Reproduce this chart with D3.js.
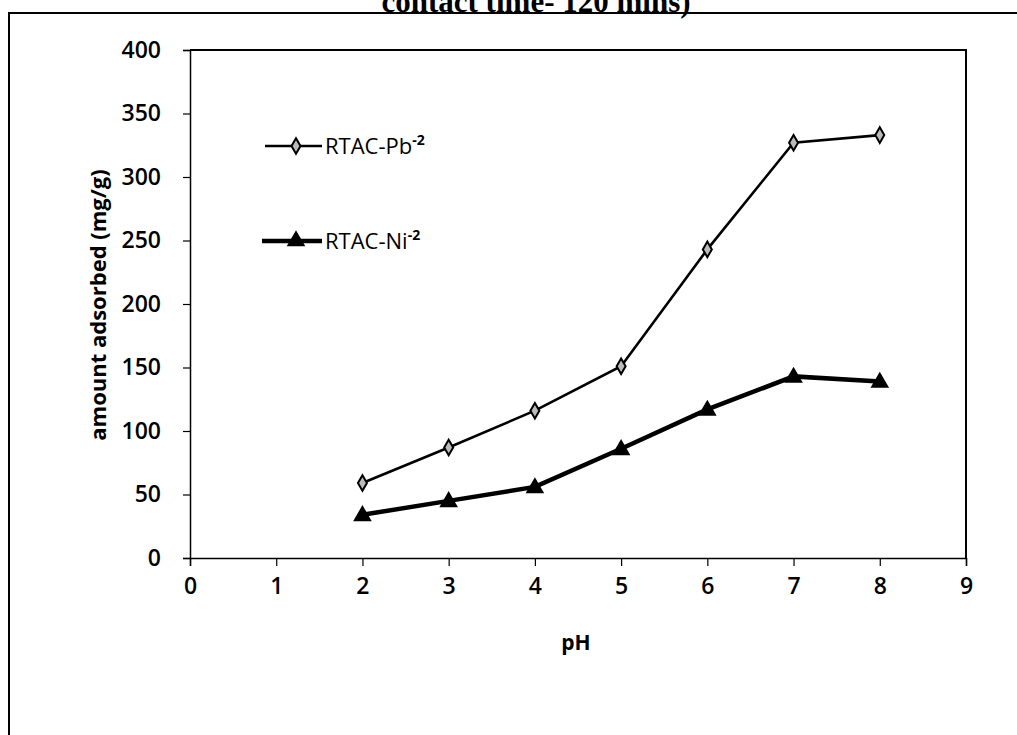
<!DOCTYPE html>
<html>
<head>
<meta charset="utf-8">
<script src="https://cdn.jsdelivr.net/npm/d3@7"></script>
<style>
  html, body { margin: 0; padding: 0; background: #fff; }
  svg { display: block; }
</style>
</head>
<body>
<svg id="chart" width="1017" height="735"></svg>
<script>
// pH values tested and amount adsorbed (mg/g) for each adsorbate
const phValues = [2, 3, 4, 5, 6, 7, 8];
const pbAdsorbed = [59, 87, 116, 151, 243, 327, 333];
const niAdsorbed = [34, 45, 56, 86, 117, 143, 139];
const xTicks = [0, 1, 2, 3, 4, 5, 6, 7, 8, 9];
const yTicks = [0, 50, 100, 150, 200, 250, 300, 350, 400];
const seriesNames = ["RTAC-Pb", "RTAC-Ni"];

const svg = d3.select("#chart");
const tickFont = "'Open Sans', 'DejaVu Sans', sans-serif";

const x = d3.scaleLinear().domain([0, 9]).range([190, 966]);
const y = d3.scaleLinear().domain([0, 400]).range([558, 50]);

// outer frame of the figure
svg.append("path")
  .attr("d", "M9,735 L9,13 L1017,13")
  .attr("fill", "none").attr("stroke", "#000").attr("stroke-width", 2);

// title (runs off the top of the figure)
svg.append("text")
  .attr("x", 536).attr("y", 12)
  .attr("text-anchor", "middle")
  .attr("font-family", "'Liberation Serif', 'Times New Roman', serif")
  .attr("font-weight", "bold").attr("font-size", 31)
  .text("contact time- 120 mins)");

// plot area border (top and right)
svg.append("path")
  .attr("d", `M${x(0)},${y(400)} L${x(9)},${y(400)} L${x(9)},${y(0)}`)
  .attr("fill", "none").attr("stroke", "#000").attr("stroke-width", 2);

// y axis
const yAxis = svg.append("g")
  .attr("transform", `translate(${x(0)},0)`)
  .call(d3.axisLeft(y).tickValues(yTicks).tickSize(7).tickPadding(22));
yAxis.select(".domain").attr("stroke-width", 1.5);
yAxis.selectAll(".tick line").attr("stroke-width", 1.2);
yAxis.selectAll(".tick text")
  .attr("font-family", tickFont).attr("font-weight", 600)
  .attr("font-size", 23).attr("fill", "#000");

// x axis
const xAxis = svg.append("g")
  .attr("transform", `translate(0,${y(0)})`)
  .call(d3.axisBottom(x).tickValues(xTicks).tickSize(8).tickPadding(12));
xAxis.select(".domain").attr("stroke-width", 1.5);
xAxis.selectAll(".tick line").attr("stroke-width", 1.2);
xAxis.selectAll(".tick text")
  .attr("font-family", tickFont).attr("font-weight", 600)
  .attr("font-size", 23).attr("fill", "#000");

// axis titles
svg.append("text")
  .attr("transform", `translate(106,${y(200) + 1}) rotate(-90)`)
  .attr("text-anchor", "middle")
  .attr("font-family", tickFont).attr("font-weight", 700).attr("font-size", 22)
  .text("amount adsorbed (mg/g)");

svg.append("text")
  .attr("x", x(4.5) - 2).attr("y", 650)
  .attr("text-anchor", "middle")
  .attr("font-family", tickFont).attr("font-weight", 700).attr("font-size", 21)
  .text("pH");

const line = d3.line().x(d => x(d[0])).y(d => y(d[1]));
const pbPts = phValues.map((p, i) => [p, pbAdsorbed[i]]);
const niPts = phValues.map((p, i) => [p, niAdsorbed[i]]);

const diamond = d3.symbol().type(d3.symbolDiamond).size(70);
const triangle = d3.symbol().type(d3.symbolTriangle).size(150);

// Pb series: thin line with open diamonds
svg.append("path").datum(pbPts)
  .attr("d", line).attr("fill", "none")
  .attr("stroke", "#000").attr("stroke-width", 2.6);
svg.selectAll(".pb").data(pbPts).enter().append("path")
  .attr("class", "pb")
  .attr("d", diamond)
  .attr("transform", d => `translate(${x(d[0])},${y(d[1])})`)
  .attr("fill", "#bbb").attr("stroke", "#000").attr("stroke-width", 2);

// Ni series: heavy line with filled triangles
svg.append("path").datum(niPts)
  .attr("d", line).attr("fill", "none")
  .attr("stroke", "#000").attr("stroke-width", 4.5);
svg.selectAll(".ni").data(niPts).enter().append("path")
  .attr("class", "ni")
  .attr("d", triangle)
  .attr("transform", d => `translate(${x(d[0])},${y(d[1]) + 1})`)
  .attr("fill", "#000");

// legend
const legend = [
  { name: seriesNames[0], y: 146, x1: 265, sym: diamond, sw: 2.6, fill: "#bbb", stroke: "#000" },
  { name: seriesNames[1], y: 241, x1: 262, sym: triangle, sw: 4.5, fill: "#000", stroke: "none" }
];
legend.forEach(l => {
  svg.append("line")
    .attr("x1", l.x1).attr("x2", 322).attr("y1", l.y).attr("y2", l.y)
    .attr("stroke", "#000").attr("stroke-width", l.sw);
  svg.append("path")
    .attr("d", l.sym)
    .attr("transform", `translate(296,${l.y})`)
    .attr("fill", l.fill).attr("stroke", l.stroke).attr("stroke-width", 2);
  const t = svg.append("text")
    .attr("x", 325).attr("y", l.y + 8)
    .attr("font-family", tickFont).attr("font-weight", 400).attr("font-size", 22)
    .attr("fill", "#000");
  t.append("tspan").text(l.name);
  t.append("tspan").attr("dy", -9).attr("font-size", 14).attr("font-weight", 700).text("-2");
});
</script>
</body>
</html>
